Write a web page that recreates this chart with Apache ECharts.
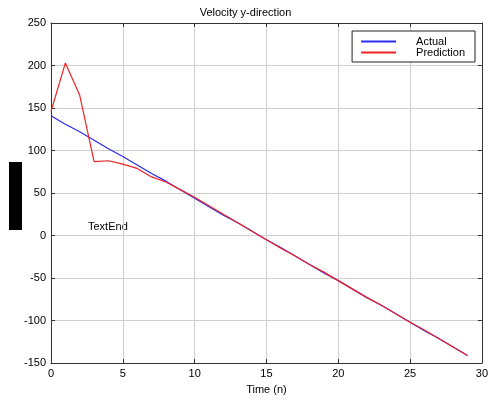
<!DOCTYPE html>
<html>
<head>
<meta charset="utf-8">
<script src="https://cdn.jsdelivr.net/npm/echarts@6/dist/echarts.min.js"></script>
<style>html,body{margin:0;padding:0;background:#fff}#c{width:491px;height:400px}</style>
</head>
<body>
<div id="c"></div>
<script>
var timeSteps = [0,1,2,3,4,5,6,7,8,9,10,11,12,13,14,15,16,17,18,19,20,21,22,23,24,25,26,27,28,29];
var actual = [141,131,122,112,102,93,83,73,64,54,44,34,24,15,5,-5,-14,-24,-34,-44,-53,-63,-73,-82,-92,-102,-112,-121,-131,-141];
var prediction = [146,203,165,87,88,84,79,69,63,54,45,35,25,15,5,-5,-15,-24,-34,-43,-53,-63,-73,-82,-92,-102,-111,-121,-131,-141];
var xTicks = {min:0, max:30, step:5};
var yTicks = {min:-150, max:250, step:50};
var titleText = 'Velocity y-direction';
var xName = 'Time (n)';
var seriesNames = ['Actual','Prediction'];

var font = 'Liberation Sans, Arial, Helvetica, sans-serif';
var chart = echarts.init(document.getElementById('c'));
function pairs(v){ return timeSteps.map(function(t,i){ return [t, v[i]]; }); }
var gridSplit = {show:true, lineStyle:{color:'#cfcfcf', width:1}};
chart.setOption({
  animation:false,
  backgroundColor:'#fff',
  title:{text:titleText, left:'center', top:2, textStyle:{fontSize:11, fontWeight:'normal', color:'#000', fontFamily:font}},
  grid:{left:51, right:6, top:23, bottom:34, containLabel:false},
  legend:{
    data:seriesNames, orient:'vertical', right:16, top:31,
    itemWidth:35, itemHeight:2, itemGap:0,
    icon:'rect', borderColor:'#222', borderWidth:1, padding:[5,10,4,9],
    backgroundColor:'#fff',
    textStyle:{fontSize:11, color:'#000', fontFamily:font, padding:[0,0,0,15], lineHeight:10}
  },
  xAxis:[{
    type:'value', min:xTicks.min, max:xTicks.max, interval:xTicks.step,
    name:xName, nameLocation:'middle', nameGap:20,
    nameTextStyle:{fontSize:11, color:'#000', fontFamily:font},
    axisLine:{show:true, onZero:false, lineStyle:{color:'#333'}},
    axisTick:{show:true, inside:true, length:4, lineStyle:{color:'#333'}},
    axisLabel:{fontSize:11, color:'#000', fontFamily:font, margin:5},
    splitLine:gridSplit
  },{
    type:'value', position:'top', min:xTicks.min, max:xTicks.max, interval:xTicks.step,
    axisLine:{show:true, onZero:false, lineStyle:{color:'#333'}},
    axisTick:{show:true, inside:true, length:4, lineStyle:{color:'#333'}},
    axisLabel:{show:false}, splitLine:{show:false}
  }],
  yAxis:[{
    type:'value', min:yTicks.min, max:yTicks.max, interval:yTicks.step,
    axisLine:{show:true, onZero:false, lineStyle:{color:'#333'}},
    axisTick:{show:true, inside:true, length:4, lineStyle:{color:'#333'}},
    axisLabel:{fontSize:11, color:'#000', fontFamily:font, margin:5},
    splitLine:gridSplit
  },{
    type:'value', position:'right', min:yTicks.min, max:yTicks.max, interval:yTicks.step,
    axisLine:{show:true, onZero:false, lineStyle:{color:'#333'}},
    axisTick:{show:true, inside:true, length:4, lineStyle:{color:'#333'}},
    axisLabel:{show:false}, splitLine:{show:false}
  }],
  series:[
    {name:seriesNames[0], type:'line', data:pairs(actual), showSymbol:false, symbol:'none',
     lineStyle:{color:'#2a2af0', width:1.2}, itemStyle:{color:'#2a2af0'}},
    {name:seriesNames[1], type:'line', data:pairs(prediction), showSymbol:false, symbol:'none',
     lineStyle:{color:'#ee2424', width:1.2}, itemStyle:{color:'#ee2424'}}
  ],
  graphic:[
    {type:'rect', left:9, top:162, shape:{width:13, height:68}, style:{fill:'#000'}},
    {type:'text', left:88, top:221, style:{text:'TextEnd', fontSize:11, fill:'#000', fontFamily:font}}
  ]
});
</script>
</body>
</html>
